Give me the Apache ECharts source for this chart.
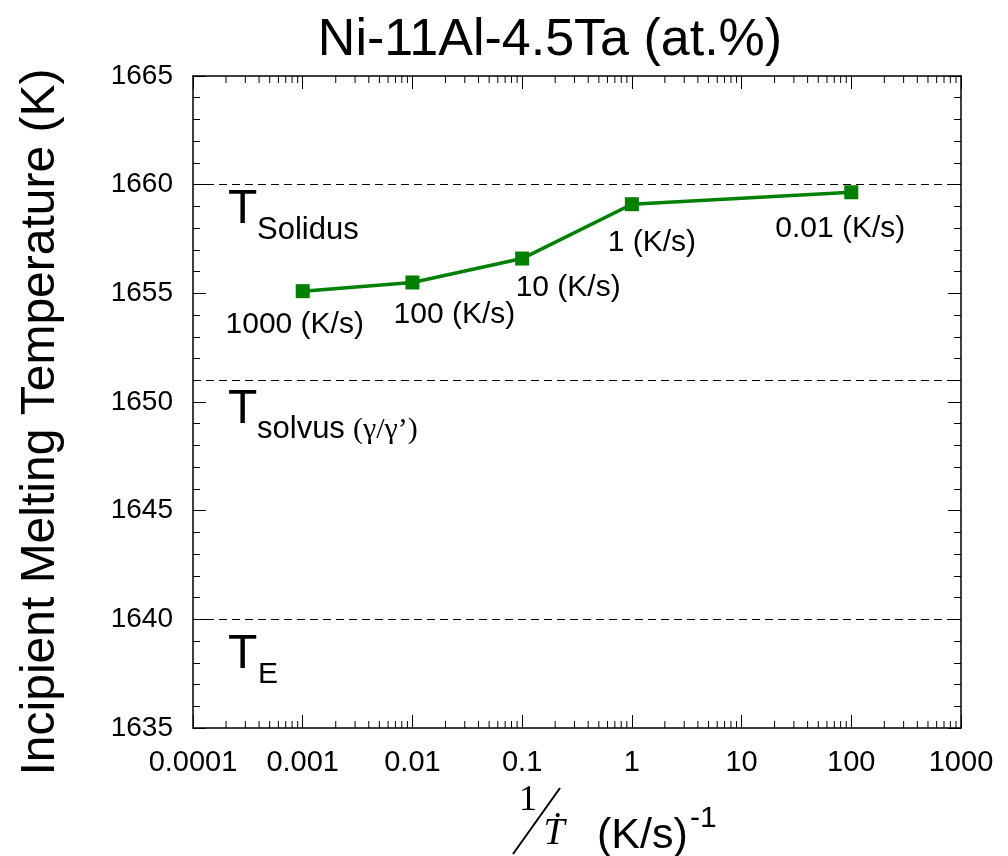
<!DOCTYPE html>
<html>
<head>
<meta charset="utf-8">
<script src="https://cdn.jsdelivr.net/npm/echarts@6/dist/echarts.min.js"></script>
<style>
  html, body { margin: 0; padding: 0; background: #fff; }
  #chart { width: 1008px; height: 856px; }
</style>
</head>
<body>
<div id="chart"></div>
<script>
// Inverse cooling rate (K/s)^-1 and measured incipient melting temperature (K)
const inverseRate = [0.001, 0.01, 0.1, 1, 100];
const meltTemp = [1655.1, 1655.5, 1656.6, 1659.1, 1659.65];
const rateLabels = ['1000 (K/s)', '100 (K/s)', '10 (K/s)', '1 (K/s)', '0.01 (K/s)'];

// Reference temperatures (dashed lines)
const refTemps = [1660, 1651, 1640];

// Axes
const xTickValues = [0.0001, 0.001, 0.01, 0.1, 1, 10, 100, 1000];
const yMin = 1635, yMax = 1665, yStep = 5;

// ---- styling / layout ----
const SANS = 'Arial, "Liberation Sans", Helvetica, sans-serif';
const SERIF = '"Times New Roman", "Liberation Serif", "DejaVu Serif", serif';
const GREEN = '#008000';
const labelOffsets = [[-8, 34], [42, 32], [46, 29], [20, 39], [-11, 36]];

// minor log ticks: 2..9 within each decade
const minorTicks = [];
for (let i = 0; i < xTickValues.length - 1; i++) {
  for (let m = 2; m <= 9; m++) minorTicks.push(xTickValues[i] * m);
}

function fmtX(v) {
  const e = Math.round(Math.log10(v));
  return e < 0 ? v.toFixed(-e) : String(Math.round(v));
}

const chart = echarts.init(document.getElementById('chart'), null, { renderer: 'canvas' });

const axisLine = { show: true, lineStyle: { color: '#000', width: 1.5 } };
const majorTick = { show: true, inside: true, length: 13, lineStyle: { color: '#000', width: 1 } };
const minorTick = { show: true, splitNumber: 5, length: 7, lineStyle: { color: '#000', width: 1 } };

const option = {
  backgroundColor: '#fff',
  animation: false,
  title: {
    text: 'Ni-11Al-4.5Ta (at.%)',
    left: 545,
    top: 10,
    textAlign: 'center',
    textStyle: { fontFamily: SANS, fontSize: 52, fontWeight: 'normal', color: '#000' }
  },
  grid: { left: 193, right: 47, top: 76, bottom: 128, containLabel: false },
  xAxis: [
    {
      type: 'log', logBase: 10, min: 0.0001, max: 1000, position: 'bottom',
      axisLine: axisLine,
      axisTick: majorTick,
      axisLabel: { fontFamily: SANS, fontSize: 29, color: '#000', margin: 20, formatter: fmtX },
      splitLine: { show: false }
    },
    {
      type: 'log', logBase: 10, min: 0.0001, max: 1000, position: 'top',
      axisLine: axisLine,
      axisTick: majorTick,
      axisLabel: { show: false },
      splitLine: { show: false }
    }
  ],
  yAxis: [
    {
      type: 'value', min: yMin, max: yMax, interval: yStep, position: 'left',
      name: 'Incipient Melting Temperature (K)',
      nameLocation: 'middle', nameGap: 128,
      nameTextStyle: { fontFamily: SANS, fontSize: 48, color: '#000', padding: [0, 40, 0, 0] },
      axisLine: axisLine,
      axisTick: majorTick,
      minorTick: minorTick,
      axisLabel: { fontFamily: SANS, fontSize: 28, color: '#000', margin: 20, formatter: v => String(v) },
      splitLine: { show: false }
    },
    {
      type: 'value', min: yMin, max: yMax, interval: yStep, position: 'right',
      axisLine: axisLine,
      axisTick: majorTick,
      minorTick: minorTick,
      axisLabel: { show: false },
      splitLine: { show: false }
    }
  ],
  series: [
    {
      // minor ticks of the log x axis, drawn on bottom and top edges
      type: 'custom',
      silent: true,
      clip: false,
      z: 1,
      data: minorTicks.map(v => [v, yMin]),
      renderItem: function (params, api) {
        const v = api.value(0);
        const pb = api.coord([v, yMin]);
        const pt = api.coord([v, yMax]);
        return {
          type: 'group',
          children: [
            { type: 'line', shape: { x1: pb[0], y1: pb[1], x2: pb[0], y2: pb[1] - 7 }, style: { stroke: '#000', lineWidth: 1 } },
            { type: 'line', shape: { x1: pt[0], y1: pt[1], x2: pt[0], y2: pt[1] + 7 }, style: { stroke: '#000', lineWidth: 1 } }
          ]
        };
      }
    },
    {
      type: 'line',
      z: 5,
      data: inverseRate.map((x, i) => ({
        value: [x, meltTemp[i]],
        label: { offset: labelOffsets[i] }
      })),
      symbol: 'rect',
      symbolSize: 14,
      itemStyle: { color: GREEN },
      lineStyle: { color: GREEN, width: 3.5 },
      label: {
        show: true,
        position: 'inside',
        formatter: p => rateLabels[p.dataIndex],
        fontFamily: SANS, fontSize: 30, color: '#000'
      },
      markLine: {
        silent: true,
        symbol: ['none', 'none'],
        label: { show: false },
        lineStyle: { color: '#000', width: 1, type: [8, 5] },
        data: refTemps.map(t => ({ yAxis: t }))
      }
    }
  ]
};

chart.setOption(option);

// Phase-boundary annotations placed just below each dashed line
function refPos(t) { return chart.convertToPixel({ gridIndex: 0 }, [0.0001, t]); }
const pS = refPos(refTemps[0]);
const pV = refPos(refTemps[1]);
const pE = refPos(refTemps[2]);
const tFont = '48px ' + SANS;
const subFont = '31px ' + SANS;
chart.setOption({
  graphic: [
    { type: 'text', style: { text: 'T', x: 228, y: pS[1] + 25, font: tFont, fill: '#000', verticalAlign: 'middle' } },
    { type: 'text', style: { text: 'Solidus', x: 257, y: pS[1] + 46, font: subFont, fill: '#000', verticalAlign: 'middle' } },
    { type: 'text', style: { text: 'T', x: 228, y: pV[1] + 29, font: tFont, fill: '#000', verticalAlign: 'middle' } },
    { type: 'text', style: { text: 'solvus', x: 257, y: pV[1] + 49, font: subFont, fill: '#000', verticalAlign: 'middle' } },
    { type: 'text', style: { text: '(\u03b3/\u03b3\u2019)', x: 353, y: pV[1] + 50, font: '30px ' + SERIF, fill: '#000', verticalAlign: 'middle' } },
    { type: 'text', style: { text: 'T', x: 228, y: pE[1] + 35, font: tFont, fill: '#000', verticalAlign: 'middle' } },
    { type: 'text', style: { text: 'E', x: 258, y: pE[1] + 55, font: '30px ' + SANS, fill: '#000', verticalAlign: 'middle' } },
    // x axis title: 1 / T-dot  (K/s)^-1
    { type: 'text', style: { text: '1', x: 528, y: 801, font: '36px ' + SERIF, fill: '#000', align: 'center', verticalAlign: 'middle' } },
    { type: 'line', shape: { x1: 513, y1: 854, x2: 560, y2: 788 }, style: { stroke: '#000', lineWidth: 2 } },
    { type: 'text', style: { text: '\u1E6A', x: 554, y: 834, font: 'italic 38px ' + SERIF, fill: '#000', align: 'center', verticalAlign: 'middle' } },
    { type: 'text', style: { text: '(K/s)', x: 597, y: 836, font: '43px ' + SANS, fill: '#000', verticalAlign: 'middle' } },
    { type: 'text', style: { text: '-1', x: 690, y: 819, font: '30px ' + SANS, fill: '#000', verticalAlign: 'middle' } }
  ]
});
</script>
</body>
</html>
